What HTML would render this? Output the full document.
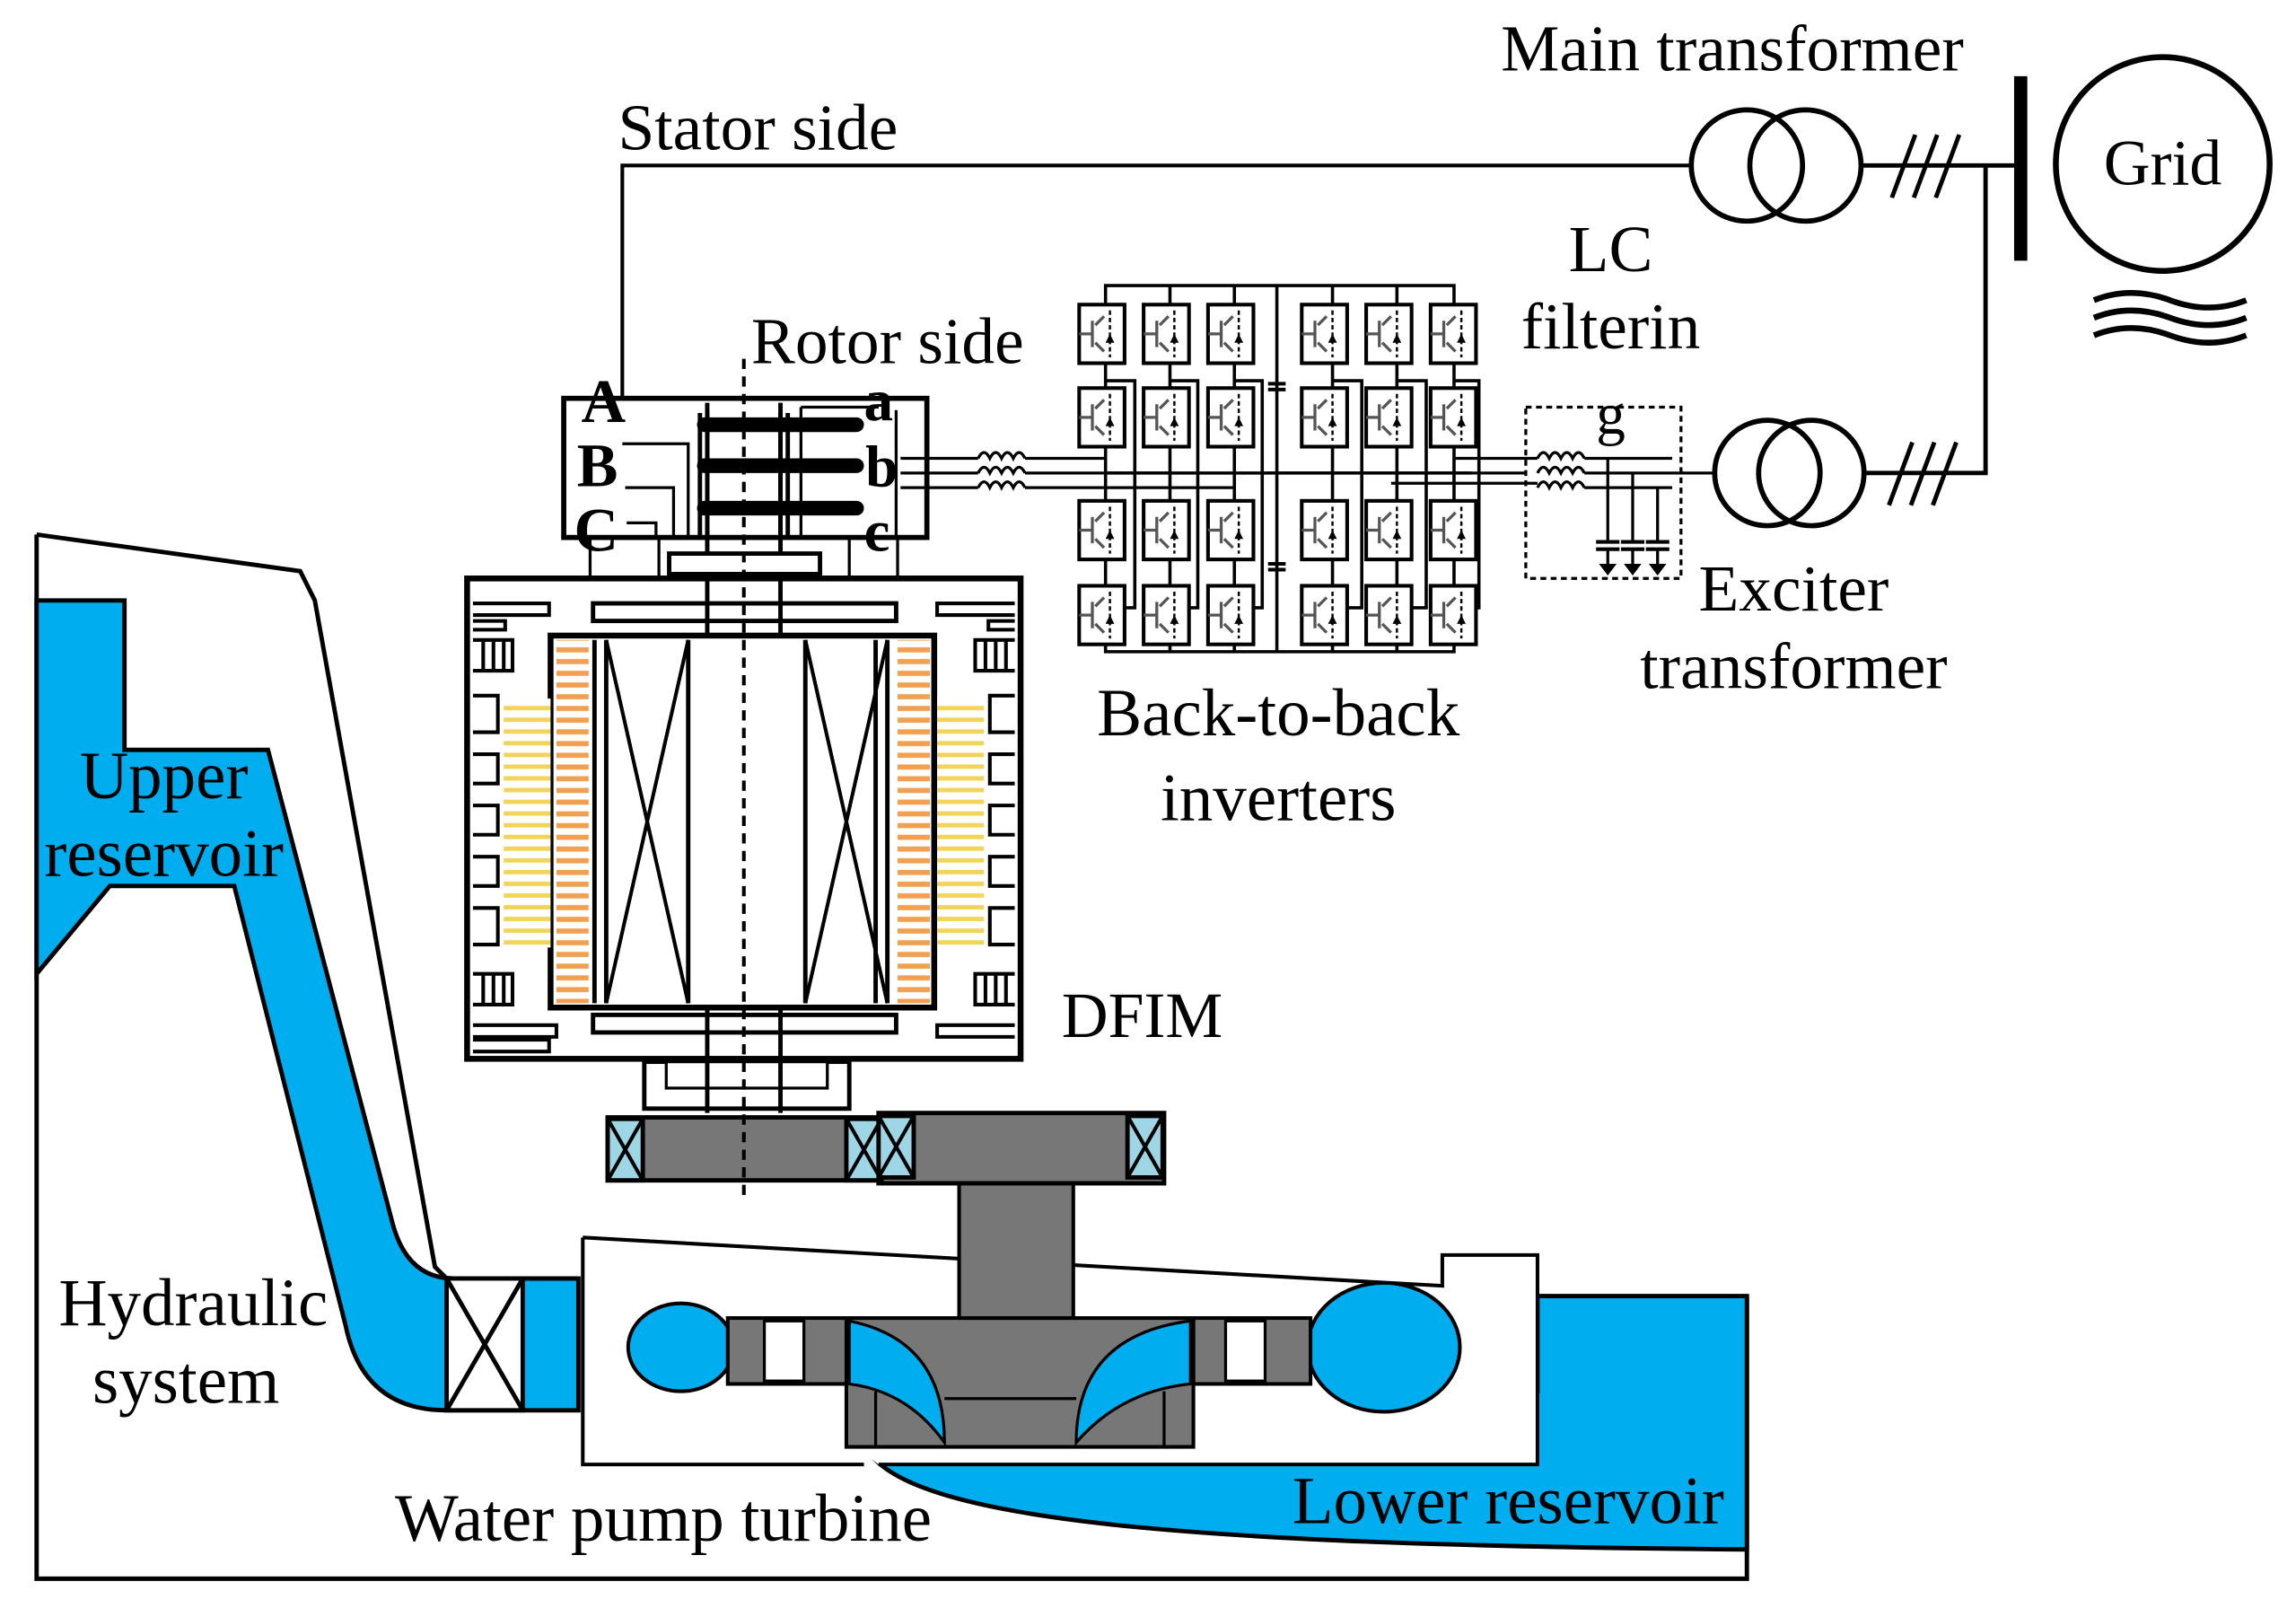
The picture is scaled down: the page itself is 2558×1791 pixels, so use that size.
<!DOCTYPE html>
<html><head><meta charset="utf-8">
<style>
html,body{margin:0;padding:0;background:#fff;}
svg{display:block;}
text{font-family:"Liberation Serif",serif;fill:#000;}
</style></head>
<body>
<svg width="2558" height="1791" viewBox="0 0 1568 1098" preserveAspectRatio="none" xmlns="http://www.w3.org/2000/svg">
<defs>
<pattern id="orng" width="10" height="8" patternUnits="userSpaceOnUse"><rect width="10" height="8" fill="#fff"/><rect y="2" width="10" height="3.5" fill="#f0a050"/></pattern>
<pattern id="yel" width="10" height="8" patternUnits="userSpaceOnUse"><rect width="10" height="8" fill="#fff"/><rect y="2" width="10" height="3" fill="#f2d45a"/></pattern>
<g id="cell">
<rect x="0" y="0" width="31" height="40" fill="#fff" stroke="#000" stroke-width="2.5"/>
<path d="M0,20 H9 M9,11 V29 M11,14 L17,8 M11,26 L17,32" stroke="#555" stroke-width="2" fill="none"/>
<path d="M21,4 V36" stroke="#000" stroke-width="1.5" stroke-dasharray="3,2"/>
<path d="M18,26 L21,20 L24,26 Z" fill="#000"/>
</g>
<g id="xbox"><rect width="24" height="42" fill="#9fd6e6" stroke="#000" stroke-width="3"/><path d="M0,0 L24,42 M24,0 L0,42" stroke="#000" stroke-width="2.5"/></g>
</defs>

<path d="M25,365 L205,390 L215,410 L297,865 L305,873" fill="none" stroke="#000" stroke-width="3"/>
<path d="M25,365 V1078 H1193 V885" fill="none" stroke="#000" stroke-width="3"/>
<path d="M25,410 H85 V512 H183 L268,835 Q278,873 310,873 H395 V963 H305 Q248,963 236,905 L160,605 H75 L25,665 Z" fill="#00aeef" stroke="#000" stroke-width="3"/>
<rect x="305" y="873" width="52" height="90" fill="#fff" stroke="#000" stroke-width="3"/>
<path d="M305,873 L357,963 M357,873 L305,963" stroke="#000" stroke-width="3"/>
<path d="M1050,885 H1193 V1058 C820,1055 610,1040 590,985 V950 H1050 Z" fill="#00aeef" stroke="#000" stroke-width="3"/>
<path d="M398,845 L985,878 V857 H1050 V1000 L600,1000" fill="#fff" stroke="#000" stroke-width="2.5"/>
<path d="M398,845 V1000 H590" fill="none" stroke="#000" stroke-width="2.5"/>
<ellipse cx="465" cy="920" rx="36" ry="30" fill="#00aeef" stroke="#000" stroke-width="2.5"/>
<ellipse cx="945" cy="920" rx="52" ry="44" fill="#00aeef" stroke="#000" stroke-width="2.5"/>
<rect x="497" y="900" width="85" height="45" fill="#777" stroke="#000" stroke-width="2.5"/>
<rect x="522" y="902" width="27" height="41" fill="#fff" stroke="#000" stroke-width="2"/>
<rect x="815" y="900" width="80" height="45" fill="#777" stroke="#000" stroke-width="2.5"/>
<rect x="837" y="902" width="27" height="41" fill="#fff" stroke="#000" stroke-width="2"/>
<!-- runner -->
<path d="M578,900 H815 V988 H578 Z" fill="#777" stroke="#000" stroke-width="2.5"/>
<path d="M598,950 V988 M795,950 V988" stroke="#000" stroke-width="2"/>
<path d="M580,902 Q645,915 645,985 Q620,950 580,945 Z" fill="#00aeef" stroke="#000" stroke-width="2"/>
<path d="M813,902 Q735,912 735,985 Q765,950 813,945 Z" fill="#00aeef" stroke="#000" stroke-width="2"/>
<path d="M645,955 H735" stroke="#000" stroke-width="2"/>
<rect x="655" y="808" width="78" height="92" fill="#777" stroke="#000" stroke-width="2.5"/>
<rect x="415" y="763" width="185" height="43" fill="#777" stroke="#000" stroke-width="3"/>
<rect x="600" y="760" width="195" height="48" fill="#777" stroke="#000" stroke-width="3"/>
<use href="#xbox" x="415" y="764"/>
<use href="#xbox" x="578" y="764"/>
<use href="#xbox" x="600" y="762"/>
<use href="#xbox" x="770" y="762"/>
<rect x="440" y="725" width="140" height="32" fill="#fff" stroke="#000" stroke-width="3"/>
<rect x="455" y="725" width="110" height="18" fill="#fff" stroke="#000" stroke-width="2"/>

<rect x="319" y="395" width="378" height="328" fill="#fff" stroke="#000" stroke-width="4"/>
<rect x="405" y="412" width="207" height="12" fill="#fff" stroke="#000" stroke-width="3"/>
<rect x="405" y="693" width="207" height="12" fill="#fff" stroke="#000" stroke-width="3"/>
<rect x="376" y="434" width="262" height="254" fill="#fff" stroke="#000" stroke-width="4"/>
<rect x="380" y="437" width="22" height="248" fill="url(#orng)"/>
<rect x="613" y="437" width="22" height="248" fill="url(#orng)"/>
<rect x="344" y="477" width="32" height="170" fill="url(#yel)"/>
<rect x="640" y="477" width="32" height="170" fill="url(#yel)"/>
<path d="M406,437 V685 M414,437 V685 M470,437 V685 M550,437 V685 M606,437 V685 M598,437 V685" stroke="#000" stroke-width="3"/>
<path d="M414,437 L470,685 M470,437 L414,685 M550,437 L606,685 M606,437 L550,685" stroke="#000" stroke-width="2.5"/>
<g fill="none" stroke="#000" stroke-width="2.5">
<path d="M323,412 H375 V420 H323 M323,424 H345 V430 H323"/>
<path d="M323,437 H350 V458 H323 M330,437 V458 M337,437 V458 M344,437 V458"/>
<path d="M323,475 H340 V500 H323 M323,515 H340 V535 H323 M323,550 H340 V570 H323 M323,585 H340 V605 H323 M323,620 H340 V645 H323"/>
<path d="M323,665 H350 V686 H323 M330,665 V686 M337,665 V686 M344,665 V686"/>
<path d="M323,700 H380 V708 H323 M323,710 H375 V718 H323"/>
<path d="M693,412 H640 V420 H693 M693,424 H675 V430 H693"/>
<path d="M693,437 H666 V458 H693 M673,437 V458 M680,437 V458 M687,437 V458"/>
<path d="M693,475 H676 V500 H693 M693,515 H676 V535 H693 M693,550 H676 V570 H693 M693,585 H676 V605 H693 M693,620 H676 V645 H693"/>
<path d="M693,665 H666 V686 H693 M673,665 V686 M680,665 V686 M687,665 V686"/>
<path d="M693,700 H640 V708 H693"/>
</g>
<path d="M483,275 V434 M533,275 V434 M483,688 V760 M533,688 V760" stroke="#000" stroke-width="3"/>
<rect x="385" y="272" width="248" height="95" fill="none" stroke="#000" stroke-width="3.5"/>
<rect x="457" y="378" width="103" height="14" fill="#fff" stroke="#000" stroke-width="3"/>
<path d="M403,367 V395 M450,367 V395 M613,367 V395 M580,367 V395" stroke="#000" stroke-width="2"/>
<path d="M478,282 V367 M483,282 V367 M538,282 V367 M533,282 V367" stroke="#000" stroke-width="3"/>
<path d="M481,290 H585 M481,318 H585 M481,347 H585" stroke="#000" stroke-width="10" stroke-linecap="round"/>
<path d="M547,278 H600 M547,278 V367 M547,367 H600" stroke="#000" stroke-width="2"/>
<path d="M425,303 H470 V367 M427,333 H460 V367 M428,357 H448 V367" fill="none" stroke="#000" stroke-width="2"/>
<path d="M612,280 V366" stroke="#000" stroke-width="2"/>
<text x="397" y="288" font-size="42" font-weight="bold">A</text>
<text x="394" y="332" font-size="42" font-weight="bold">B</text>
<text x="392" y="376" font-size="42" font-weight="bold">C</text>
<text x="590" y="287" font-size="40" font-weight="bold">a</text>
<text x="591" y="332" font-size="40" font-weight="bold">b</text>
<text x="590" y="376" font-size="40" font-weight="bold">c</text>
<path d="M508,245 V818" stroke="#000" stroke-width="2.5" stroke-dasharray="7,5"/>

<path d="M425,272 V113 H1155" fill="none" stroke="#000" stroke-width="2.5"/>
<text x="422" y="102" font-size="45">Stator side</text>
<text x="513" y="248" font-size="45">Rotor side</text>
<circle cx="1193" cy="113" r="38" fill="none" stroke="#000" stroke-width="3.5"/>
<circle cx="1233" cy="113" r="38" fill="none" stroke="#000" stroke-width="3.5"/>
<text x="1025" y="48" font-size="45">Main transformer</text>
<path d="M1271,113 H1380 M1292,135 L1308,92 M1307,135 L1323,92 M1322,135 L1338,92" stroke="#000" stroke-width="3"/>
<path d="M1380,52 V178" stroke="#000" stroke-width="9"/>
<circle cx="1477" cy="112" r="73" fill="none" stroke="#000" stroke-width="4"/>
<text x="1477" y="126" font-size="44" text-anchor="middle">Grid</text>
<path d="M1430,205 Q1455,195 1482,205 T1534,205 M1430,217 Q1455,207 1482,217 T1534,217 M1430,229 Q1455,219 1482,229 T1534,229" fill="none" stroke="#000" stroke-width="4"/>
<path d="M1356,113 V323 H1272" fill="none" stroke="#000" stroke-width="3"/>
<path d="M1290,345 L1306,302 M1305,345 L1321,302 M1320,345 L1336,302" stroke="#000" stroke-width="3"/>
<circle cx="1207" cy="323" r="36" fill="none" stroke="#000" stroke-width="3.5"/>
<circle cx="1237" cy="323" r="36" fill="none" stroke="#000" stroke-width="3.5"/>
<path d="M1148,323 H1171" stroke="#000" stroke-width="2"/>
<text x="1100" y="185" font-size="45" text-anchor="middle">LC</text>
<text x="1100" y="238" font-size="45" text-anchor="middle">filterin</text>
<text x="1100" y="296" font-size="40" text-anchor="middle">g</text>
<text x="1225" y="417" font-size="45" text-anchor="middle">Exciter</text>
<text x="1225" y="470" font-size="45" text-anchor="middle">transformer</text>
<text x="873" y="502" font-size="46" text-anchor="middle">Back-to-back</text>
<text x="873" y="560" font-size="46" text-anchor="middle">inverters</text>
<text x="725" y="708" font-size="44">DFIM</text>

<g fill="none" stroke="#000" stroke-width="2">
<path d="M615,313 H668 M615,323 H668 M615,333 H668"/>
<path d="M668,313 q4,-8 8,0 q4,-8 8,0 q4,-8 8,0 q4,-8 8,0 M668,323 q4,-8 8,0 q4,-8 8,0 q4,-8 8,0 q4,-8 8,0 M668,333 q4,-8 8,0 q4,-8 8,0 q4,-8 8,0 q4,-8 8,0"/>
<path d="M700,313 H755 M700,323 H800 M700,333 H843"/>
<path d="M865,323 H1042 M993,313 H1050 M950,330 H1050"/>
<path d="M1050,313 q4,-8 8,0 q4,-8 8,0 q4,-8 8,0 q4,-8 8,0 M1050,323 q4,-8 8,0 q4,-8 8,0 q4,-8 8,0 q4,-8 8,0 M1050,333 q4,-8 8,0 q4,-8 8,0 q4,-8 8,0 q4,-8 8,0"/>
<path d="M1082,313 H1142 M1082,323 H1150 M1082,333 H1142"/>
<path d="M1098,313 V370 M1115,323 V370 M1132,333 V370"/>
<path d="M1090,370 H1106 M1090,375 H1106 M1107,370 H1123 M1107,375 H1123 M1124,370 H1140 M1124,375 H1140" stroke-width="2.5"/>
<path d="M1098,375 V385 M1115,375 V385 M1132,375 V385"/>
</g>
<path d="M1092,385 H1104 L1098,393 Z M1109,385 H1121 L1115,393 Z M1126,385 H1138 L1132,393 Z" fill="#000"/>
<rect x="1042" y="278" width="106" height="117" fill="none" stroke="#000" stroke-width="2" stroke-dasharray="4,3"/>

<g fill="none" stroke="#000" stroke-width="2.2">
<path d="M755,195 H993 V445 H755 Z"/>
<path d="M799,195 V445 M843,195 V445 M910,195 V445 M954,195 V445"/>
<path d="M872,195 V445"/>
<path d="M866,262 H878 M866,266 H878 M866,385 H878 M866,389 H878" stroke-width="2.5"/>
<path d="M755,260 H775 V415 H755 M799,260 H818 V415 H799 M843,260 H862 V415 H843"/>
<path d="M910,260 H930 V415 H910 M954,260 H974 V415 H954 M993,260 H1010 V415 H993"/>
<path d="M755,323 H1005"/>
</g>
<use href="#cell" x="737" y="208"/><use href="#cell" x="781" y="208"/><use href="#cell" x="825" y="208"/>
<use href="#cell" x="889" y="208"/><use href="#cell" x="933" y="208"/><use href="#cell" x="977" y="208"/>
<use href="#cell" x="737" y="265"/><use href="#cell" x="781" y="265"/><use href="#cell" x="825" y="265"/>
<use href="#cell" x="889" y="265"/><use href="#cell" x="933" y="265"/><use href="#cell" x="977" y="265"/>
<use href="#cell" x="737" y="342"/><use href="#cell" x="781" y="342"/><use href="#cell" x="825" y="342"/>
<use href="#cell" x="889" y="342"/><use href="#cell" x="933" y="342"/><use href="#cell" x="977" y="342"/>
<use href="#cell" x="737" y="400"/><use href="#cell" x="781" y="400"/><use href="#cell" x="825" y="400"/>
<use href="#cell" x="889" y="400"/><use href="#cell" x="933" y="400"/><use href="#cell" x="977" y="400"/>

<text x="112" y="545" font-size="46" text-anchor="middle">Upper</text>
<text x="112" y="598" font-size="46" text-anchor="middle">reservoir</text>
<text x="132" y="905" font-size="46" text-anchor="middle">Hydraulic</text>
<text x="127" y="958" font-size="46" text-anchor="middle">system</text>
<text x="453" y="1052" font-size="46" text-anchor="middle">Water pump turbine</text>
<text x="1030" y="1040" font-size="46" text-anchor="middle">Lower reservoir</text>
</svg>
</body></html>
